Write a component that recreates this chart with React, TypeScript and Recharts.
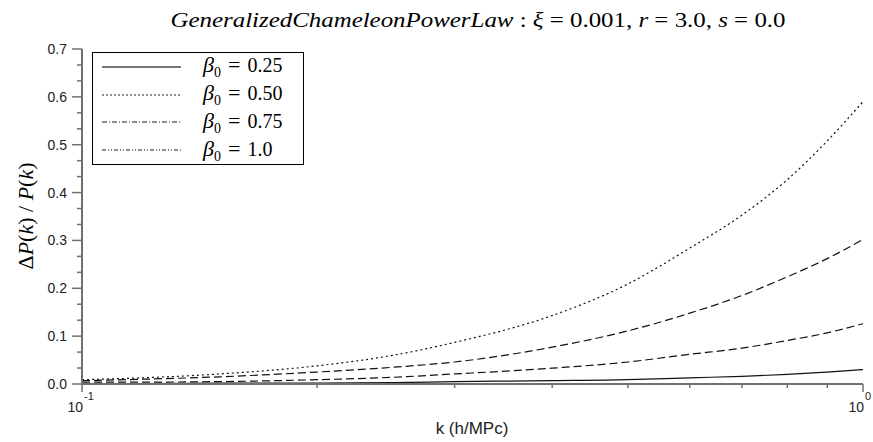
import { LineChart, Line, XAxis, YAxis } from 'recharts';

// k in h/MPc
const kValues = [0.1, 0.12, 0.15, 0.2, 0.25, 0.3, 0.4, 0.5, 0.6, 0.7, 0.8, 0.9, 1.0];
const beta025 = [0.001, 0.001, 0.002, 0.002, 0.003, 0.005, 0.007, 0.009, 0.013, 0.016, 0.020, 0.025, 0.030];
const beta050 = [0.009, 0.013, 0.021, 0.038, 0.060, 0.087, 0.143, 0.209, 0.284, 0.353, 0.427, 0.508, 0.590];
const beta075 = [0.007, 0.010, 0.015, 0.025, 0.035, 0.046, 0.077, 0.111, 0.148, 0.185, 0.224, 0.262, 0.302];
const beta100 = [0.004, 0.004, 0.005, 0.009, 0.014, 0.021, 0.033, 0.046, 0.062, 0.075, 0.091, 0.107, 0.126];

const xTicks = [0.1, 0.2, 0.3, 0.4, 0.5, 0.6, 0.7, 0.8, 0.9, 1.0];
const yMajorTicks = [0, 0.1, 0.2, 0.3, 0.4, 0.5, 0.6, 0.7];

const legendItems = [
  { label: '0.25', dash: undefined, color: '#777', width: 2 },
  { label: '0.50', dash: '2 2', color: '#222', width: 1.2 },
  { label: '0.75', dash: '5 2 1 2', color: '#222', width: 1.2 },
  { label: '1.0', dash: '4 2 1 2 1 2', color: '#222', width: 1.2 },
];

const data = kValues.map((k, i) => ({
  k,
  b025: beta025[i],
  b050: beta050[i],
  b075: beta075[i],
  b100: beta100[i],
}));

// two minor ticks between each major one
const yTicks: number[] = [];
yMajorTicks.forEach((t, i) => {
  yTicks.push(t);
  if (i < yMajorTicks.length - 1) {
    yTicks.push(t + 0.1 / 3, t + 0.2 / 3);
  }
});

const axisColor = '#707070';
const tickFont = '"Liberation Sans", Arial, sans-serif';
const mathFont = '"Liberation Serif", "Times New Roman", serif';

function XTick({ x, y, payload }: any) {
  const v = payload.value;
  const major = v === 0.1 || v === 1;
  return (
    <g>
      <line x1={x} x2={x} y1={y} y2={y + (major ? 8 : 4)} stroke={axisColor} strokeWidth={1.5} />
      {major && (
        <>
          <text x={x + 1} y={y + 28} textAnchor="end" fontSize={14} fontFamily={tickFont} fill="#222">10</text>
          <text x={x + 2} y={y + 16} textAnchor="start" fontSize={11} fontFamily={tickFont} fill="#222">
            {v === 1 ? '0' : '-1'}
          </text>
        </>
      )}
    </g>
  );
}

function YTick({ x, y, payload }: any) {
  const v = payload.value;
  const major = Math.abs(v * 10 - Math.round(v * 10)) < 1e-6;
  return (
    <g>
      <line x1={x - (major ? 10 : 5)} x2={x} y1={y} y2={y} stroke={axisColor} strokeWidth={1.5} />
      {major && (
        <text x={x - 15} y={y + 5} textAnchor="end" fontSize={14} fontFamily={tickFont} fill="#222">
          {v.toFixed(1)}
        </text>
      )}
    </g>
  );
}

function LegendBox() {
  return (
    <div
      style={{
        position: 'absolute',
        left: 92,
        top: 52,
        width: 210,
        height: 111,
        border: '1px solid #000',
        background: '#fff',
      }}
    >
      {legendItems.map((item) => (
        <div key={item.label} style={{ height: 27.75, display: 'flex', alignItems: 'center' }}>
          <svg width={100} height={20} style={{ display: 'block' }}>
            <line
              x1={9}
              x2={88}
              y1={10}
              y2={10}
              stroke={item.color}
              strokeWidth={item.width}
              strokeDasharray={item.dash}
            />
          </svg>
          <span style={{ fontFamily: mathFont, fontSize: 20, color: '#000', marginLeft: 10, whiteSpace: 'nowrap' }}>
            <i style={{ fontSize: 22 }}>β</i>
            <sub style={{ fontSize: 14 }}>0</sub>
            <span style={{ margin: '0 7px', fontSize: 22 }}>=</span>
            {item.label}
          </span>
        </div>
      ))}
    </div>
  );
}

export default function App() {
  return (
    <div style={{ position: 'absolute', left: 0, top: 0, width: 873, height: 442, background: '#fff' }}>
      <LineChart width={873} height={442} data={data} margin={{ top: 49, right: 10, bottom: 0, left: 0 }}>
        <XAxis
          dataKey="k"
          type="number"
          scale="log"
          domain={[0.1, 1]}
          ticks={xTicks}
          interval={0}
          height={58}
          tickSize={0}
          tickMargin={0}
          tickLine={false}
          tick={<XTick />}
          axisLine={{ stroke: axisColor, strokeWidth: 2 }}
          allowDataOverflow
        />
        <YAxis
          type="number"
          domain={[0, 0.7]}
          ticks={yTicks}
          interval={0}
          width={82}
          tickSize={0}
          tickMargin={0}
          tickLine={false}
          tick={<YTick />}
          axisLine={{ stroke: axisColor, strokeWidth: 2 }}
          allowDataOverflow
        />
        <Line type="monotone" dataKey="b025" stroke="#111" strokeWidth={1.2} dot={false} isAnimationActive={false} />
        <Line type="monotone" dataKey="b050" stroke="#111" strokeWidth={1.2} strokeDasharray="2 3" dot={false} isAnimationActive={false} />
        <Line type="monotone" dataKey="b075" stroke="#111" strokeWidth={1.2} strokeDasharray="8 4" dot={false} isAnimationActive={false} />
        <Line type="monotone" dataKey="b100" stroke="#111" strokeWidth={1.2} strokeDasharray="8 4" dot={false} isAnimationActive={false} />
      </LineChart>
      <LegendBox />
      <svg width={873} height={442} style={{ position: 'absolute', left: 0, top: 0, pointerEvents: 'none' }}>
        <text
          x={478}
          y={27}
          textAnchor="middle"
          fontFamily={mathFont}
          fontSize={21}
          fill="#000"
          textLength={615}
          lengthAdjust="spacingAndGlyphs"
        >
          <tspan fontStyle="italic">GeneralizedChameleonPowerLaw</tspan>
          <tspan> : </tspan>
          <tspan fontStyle="italic">ξ</tspan>
          <tspan> = 0.001, </tspan>
          <tspan fontStyle="italic">r</tspan>
          <tspan> = 3.0, </tspan>
          <tspan fontStyle="italic">s</tspan>
          <tspan> = 0.0</tspan>
        </text>
        <text
          x={0}
          y={0}
          transform="translate(33 216) rotate(-90)"
          textAnchor="middle"
          fontFamily={mathFont}
          fontSize={22}
          fill="#000"
        >
          <tspan>Δ</tspan>
          <tspan fontStyle="italic">P</tspan>
          <tspan>(</tspan>
          <tspan fontStyle="italic">k</tspan>
          <tspan>) / </tspan>
          <tspan fontStyle="italic">P</tspan>
          <tspan>(</tspan>
          <tspan fontStyle="italic">k</tspan>
          <tspan>)</tspan>
        </text>
        <text x={472} y={434} textAnchor="middle" fontFamily={tickFont} fontSize={17} fill="#222">
          k (h/MPc)
        </text>
      </svg>
    </div>
  );
}
